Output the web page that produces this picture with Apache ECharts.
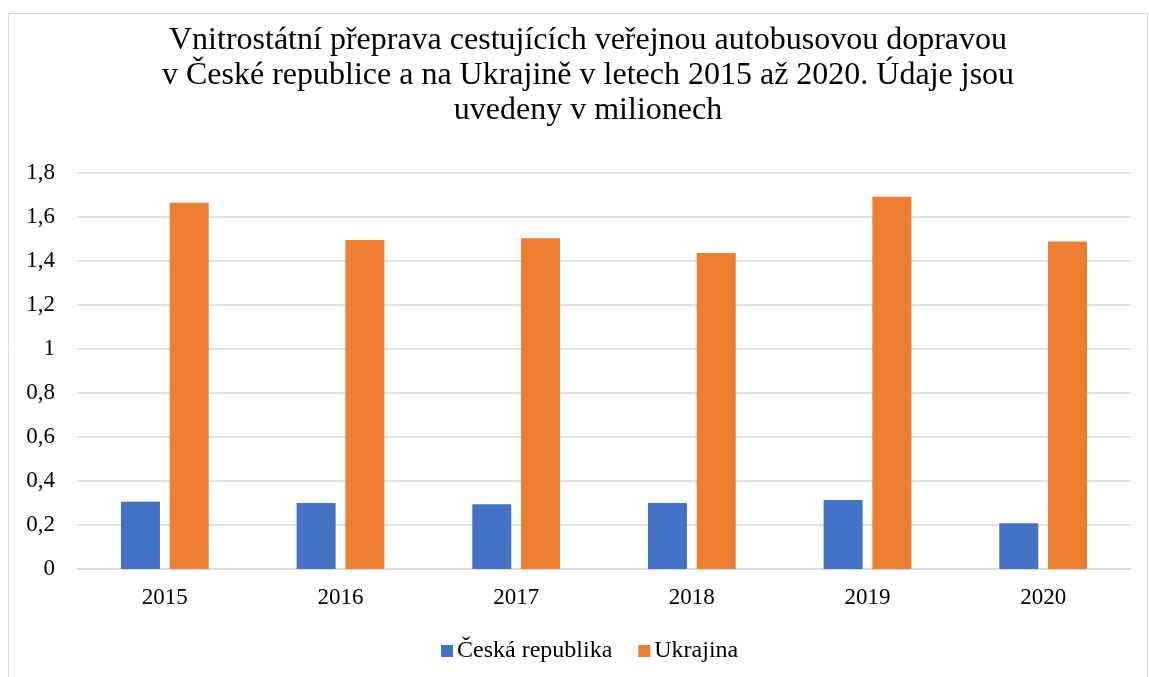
<!DOCTYPE html>
<html>
<head>
<meta charset="utf-8">
<script src="https://cdn.jsdelivr.net/npm/echarts@6/dist/echarts.min.js"></script>
<style>
html,body{margin:0;padding:0;background:#fff;}
#c{width:1149px;height:677px;}
</style>
</head>
<body>
<div id="c"></div>
<script>
const categories = ['2015','2016','2017','2018','2019','2020'];
const seriesNames = ['Česká republika','Ukrajina'];
const czValues = [0.306, 0.300, 0.294, 0.300, 0.314, 0.208];
const uaValues = [1.665, 1.495, 1.503, 1.436, 1.692, 1.489];
const titleText = 'Vnitrostátní přeprava cestujících veřejnou autobusovou dopravou\nv České republice a na Ukrajině v letech 2015 až 2020. Údaje jsou\nuvedeny v milionech';

const serif = '"Liberation Serif", "Times New Roman", serif';
const chart = echarts.init(document.getElementById('c'));
chart.setOption({
  animation: false,
  backgroundColor: '#fff',
  graphic: [{
    type: 'rect',
    shape: {x: 8.5, y: 13.5, width: 1139, height: 700},
    style: {fill: 'none', stroke: '#d9d9d9', lineWidth: 1},
    silent: true
  }],
  title: {
    text: titleText,
    left: 583,
    top: 18,
    textAlign: 'center',
    textStyle: {
      fontFamily: serif,
      fontSize: 32,
      fontWeight: 'normal',
      color: '#000',
      lineHeight: 35
    }
  },
  legend: {
    data: seriesNames,
    top: 634,
    left: 436,
    padding: 5,
    itemWidth: 12,
    itemHeight: 12,
    itemGap: 26,
    icon: 'rect',
    textStyle: {fontFamily: serif, fontSize: 24, color: '#000', padding: [0,0,0,-1]}
  },
  grid: {left: 77, right: 18, top: 173, bottom: 108, containLabel: false},
  xAxis: {
    type: 'category',
    data: categories,
    axisTick: {show: false},
    axisLine: {show: true, lineStyle: {color: '#d9d9d9', width: 1.5}},
    axisLabel: {fontFamily: serif, fontSize: 23, color: '#000', margin: 17}
  },
  yAxis: {
    type: 'value',
    min: 0,
    max: 1.8,
    interval: 0.2,
    axisLine: {show: false},
    axisTick: {show: false},
    splitLine: {lineStyle: {color: '#d9d9d9', width: 1.5}},
    axisLabel: {
      fontFamily: serif, fontSize: 23, color: '#000', margin: 22,
      formatter: function (v) { return String(Math.round(v * 10) / 10).replace('.', ','); }
    }
  },
  series: [
    {name: seriesNames[0], type: 'bar', data: czValues, barWidth: 39, barGap: '25%', itemStyle: {color: '#4472C4'}},
    {name: seriesNames[1], type: 'bar', data: uaValues, barWidth: 39, itemStyle: {color: '#ED7D31'}}
  ]
});
</script>
</body>
</html>
